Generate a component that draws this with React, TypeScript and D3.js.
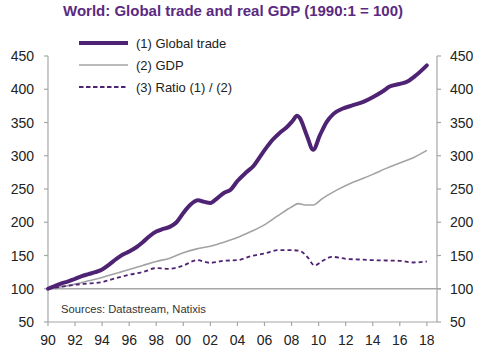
import React from 'react'
import * as d3 from 'd3'

// data (decimal year, index 1990:1 = 100)
const tradeYears = [1990, 1990.5, 1991, 1991.5, 1992, 1992.5, 1993, 1993.5, 1994, 1994.5, 1995, 1995.5, 1996, 1996.5, 1997, 1997.5, 1998, 1998.5, 1999, 1999.5, 2000, 2000.5, 2001.1, 2001.5, 2002, 2002.5, 2003, 2003.5, 2004, 2004.7, 2005.2, 2005.65, 2006.1, 2006.6, 2007.1, 2007.6, 2008.1, 2008.4, 2008.6, 2009.1, 2009.6, 2010.1, 2010.6, 2011.1, 2011.8, 2012.55, 2013.3, 2014, 2014.75, 2015.25, 2016, 2016.6, 2017.2, 2018]
const tradeValues = [100, 104, 108, 111, 115, 119, 122, 125, 129, 136, 144, 151, 156, 162, 170, 179, 186, 190, 193, 200, 214, 226, 233, 231, 229, 236, 244, 249, 262, 276, 285, 298, 311, 324, 334, 342, 353, 360, 357, 332, 309, 331, 351, 363, 371, 376, 381, 388, 397, 404, 408, 412, 421, 436]

const gdpYears = [1990, 1991, 1992, 1993, 1994, 1995, 1996, 1997, 1998, 1999, 2000, 2001, 2002, 2003, 2004, 2005, 2006, 2007, 2008, 2008.5, 2009, 2009.6, 2010.3, 2011.3, 2012.3, 2013.3, 2014, 2015, 2016, 2017, 2018]
const gdpValues = [100, 103, 107, 112, 117, 123, 129, 135, 141, 146, 154, 160, 164, 170, 177, 186, 196, 210, 223, 228, 226, 226, 236, 248, 258, 266, 272, 281, 289, 297, 308]

const ratioYears = [1990, 1991, 1992, 1993, 1994, 1995, 1996, 1997, 1998, 1999, 2000, 2001, 2002, 2003, 2004, 2005, 2006, 2007, 2008, 2008.6, 2009.2, 2009.7, 2010.3, 2011, 2012, 2013, 2014, 2015, 2016, 2017, 2018]
const ratioValues = [100, 103, 106, 108, 110, 116, 121, 125, 131, 130, 135, 143, 139, 142, 143, 149, 153, 158, 158, 157, 147, 135, 142, 148, 145, 144, 143, 142.5, 142, 139.5, 141]

const yTicks = [50, 100, 150, 200, 250, 300, 350, 400, 450]
const xTicks = [1990, 1992, 1994, 1996, 1998, 2000, 2002, 2004, 2006, 2008, 2010, 2012, 2014, 2016, 2018]
const legendLabels = ['(1) Global trade', '(2) GDP', '(3) Ratio (1) / (2)']

const PURPLE = '#4f2373'
const GREY = '#a3a3a3'
const AXIS = '#a6a6a6'
const FONT = '"Liberation Sans", Arial, sans-serif'

export default function App() {
  const x = d3.scaleLinear().domain([1990, 2018.75]).range([48, 437])
  const y = d3.scaleLinear().domain([50, 450]).range([322, 56])

  const mkLine = d3.line<[number, number]>()
    .x(d => x(d[0]))
    .y(d => y(d[1]))
    .curve(d3.curveMonotoneX)

  const zip = (a: number[], b: number[]) => a.map((v, i) => [v, b[i]] as [number, number])

  const fmtYear = (v: number) => String(v % 100).padStart(2, '0')

  return (
    <svg width={480} height={363} style={{ position: 'absolute', left: 0, top: 0, background: '#fff' }}>
      <text x={233} y={16} textAnchor="middle" fontFamily={FONT} fontWeight="bold" fontSize={15} fill="#5a2a82">
        World: Global trade and real GDP (1990:1 = 100)
      </text>

      {/* axes */}
      <line x1={x(1990)} x2={x(1990)} y1={y(450)} y2={y(50)} stroke={AXIS} strokeWidth={1.2} />
      <line x1={437} x2={437} y1={y(450)} y2={y(50)} stroke={AXIS} strokeWidth={1.2} />
      <line x1={x(1990)} x2={437} y1={y(50)} y2={y(50)} stroke={AXIS} strokeWidth={1.2} />
      <line x1={x(1990)} x2={441} y1={y(100)} y2={y(100)} stroke={AXIS} strokeWidth={1.5} />

      {yTicks.map(t => (
        <g key={t}>
          <line x1={44} x2={48} y1={y(t)} y2={y(t)} stroke={AXIS} strokeWidth={1.2} />
          <line x1={437} x2={441} y1={y(t)} y2={y(t)} stroke={AXIS} strokeWidth={1.2} />
          <text x={34} y={y(t) + 5} textAnchor="end" fontFamily={FONT} fontSize={14} fill="#222">{t}</text>
          <text x={450} y={y(t) + 5} textAnchor="start" fontFamily={FONT} fontSize={14} fill="#222">{t}</text>
        </g>
      ))}
      {xTicks.map(t => (
        <g key={t}>
          <line x1={x(t)} x2={x(t)} y1={y(50)} y2={y(50) + 4} stroke={AXIS} strokeWidth={1.2} />
          <text x={x(t)} y={345} textAnchor="middle" fontFamily={FONT} fontSize={14} fill="#222">{fmtYear(t)}</text>
        </g>
      ))}

      {/* series */}
      <path d={mkLine(zip(gdpYears, gdpValues)) || ''} fill="none" stroke={GREY} strokeWidth={1.6} />
      <path d={mkLine(zip(ratioYears, ratioValues)) || ''} fill="none" stroke={PURPLE} strokeWidth={1.8} strokeDasharray="4,3" />
      <path d={mkLine(zip(tradeYears, tradeValues)) || ''} fill="none" stroke={PURPLE} strokeWidth={4} strokeLinejoin="round" strokeLinecap="round" />

      {/* legend */}
      <line x1={79} x2={128} y1={43} y2={43} stroke={PURPLE} strokeWidth={4} />
      <line x1={79} x2={128} y1={65} y2={65} stroke={GREY} strokeWidth={1.6} />
      <line x1={79} x2={128} y1={87} y2={87} stroke={PURPLE} strokeWidth={1.8} strokeDasharray="4.5,2.5" />
      {legendLabels.map((l, i) => (
        <text key={l} x={136} y={47.5 + i * 22} fontFamily={FONT} fontSize={13} fill="#222">{l}</text>
      ))}

      <text x={61} y={313} fontFamily={FONT} fontSize={11.2} fill="#333">Sources: Datastream, Natixis</text>
    </svg>
  )
}
